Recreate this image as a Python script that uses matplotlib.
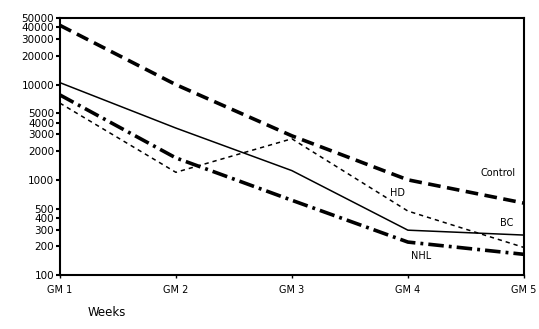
import matplotlib
matplotlib.use("Agg")
import matplotlib.pyplot as plt
from matplotlib.ticker import FixedLocator, NullLocator

# data (log scale)
weeks = ["GM 1", "GM 2", "GM 3", "GM 4", "GM 5"]
control = [42000, 10000, 2900, 1000, 570]
bc = [10500, 3500, 1250, 296, 263]
hd = [6400, 1200, 2700, 470, 195]
nhl = [7800, 1700, 610, 222, 165]

yticks = [100, 200, 300, 400, 500, 1000, 2000, 3000, 4000, 5000,
          10000, 20000, 30000, 40000, 50000]

plt.rcParams['font.family'] = ['DejaVu Sans']

fig = plt.figure(figsize=(5.39, 3.29), dpi=100)
ax = fig.add_axes([0.111, 0.164, 0.861, 0.781])

x = list(range(len(weeks)))
ax.plot(x, control, color='black', linewidth=2.6, linestyle=(0, (3.5, 1.8)))
ax.plot(x, bc, color='black', linewidth=1.1, linestyle='-')
ax.plot(x, hd, color='black', linewidth=1.1, linestyle=(0, (2.8, 2.6)))
ax.plot(x, nhl, color='black', linewidth=2.6, linestyle=(0, (4.3, 1.4, 0.8, 1.4)))

ax.set_yscale('log')
ax.set_ylim(100, 50000)
ax.set_xlim(0, 4)
ax.yaxis.set_major_locator(FixedLocator(yticks))
ax.yaxis.set_minor_locator(NullLocator())
ax.set_yticklabels([str(v) for v in yticks], fontsize=7.5)
ax.set_xticks(x)
ax.set_xticklabels(weeks, fontsize=7)
ax.tick_params(axis='y', length=3, width=1.5, pad=1)
ax.tick_params(axis='x', length=2, width=1, pad=5)

for s in ax.spines.values():
    s.set_linewidth(1.5)

# series labels placed next to the lines
ax.text(3.78, control[4] * 2.05, "Control", fontsize=7, ha='center', va='center')
ax.text(2.91, 720, "HD", fontsize=7, ha='center', va='center')
ax.text(3.85, bc[4] * 1.33, "BC", fontsize=7, ha='center', va='center')
ax.text(3.11, 158, "NHL", fontsize=7, ha='center', va='center')

fig.text(0.163, 0.03, "Weeks", fontsize=8.5, ha='left', va='bottom')

fig.savefig("out.png", dpi=100)
